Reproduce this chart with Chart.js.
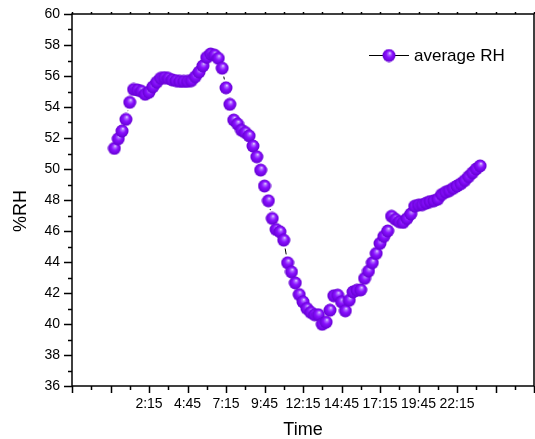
<!DOCTYPE html>
<html>
<head>
<meta charset="utf-8">
<script src="https://cdn.jsdelivr.net/npm/chart.js@4"></script>
<style>
  html, body { margin: 0; padding: 0; background: #fff; }
  #wrap { width: 535px; height: 439px; }
</style>
</head>
<body>
<div id="wrap"><canvas id="chartRH" width="535" height="439"></canvas></div>
<script>
// readings every 15 min, starting 0:00 (hours on the x axis)
const sampleStep = 0.25;
const rhValues = [
  51.33, 51.95, 52.45, 53.2, 54.3, 55.13, 55.1, 55.02, 54.82, 54.95,
  55.3, 55.6, 55.85, 55.9, 55.85, 55.75, 55.7, 55.65, 55.65, 55.65,
  55.7, 55.95, 56.25, 56.65, 57.2, 57.42, 57.35, 57.14, 56.5, 55.24,
  54.17, 53.16, 52.9, 52.5, 52.36, 52.14, 51.48, 50.79, 49.93, 48.9,
  47.95, 46.81, 46.1, 45.95, 45.41, 43.95, 43.36, 42.65, 41.9, 41.43,
  41.0, 40.75, 40.6, 40.6, 39.98, 40.12, 40.89, 41.82, 41.86, 41.43,
  40.85, 41.53, 42.07, 42.18, 42.2, 42.94, 43.41, 43.95, 44.55, 45.2,
  45.65, 46.0, 46.95, 46.75, 46.6, 46.55, 46.8, 47.1, 47.6, 47.67,
  47.7, 47.8, 47.9, 47.95, 48.05, 48.35, 48.5, 48.6, 48.75, 48.9,
  49.05, 49.25, 49.5, 49.75, 50.0, 50.2
];
const xTickLabels = ['2:15', '4:45', '7:15', '9:45', '12:15', '14:45', '17:15', '19:45', '22:15'];
const xMin = -2.75, xMax = 27.25, xMajor = 2.5;
const yMin = 36, yMax = 60, yMajor = 2;

const FONT = 'Arial, "Liberation Sans", sans-serif';
const R = 6.5;

// "2:15" -> 2.25
function toHours(s) {
  const [h, m] = s.split(':').map(Number);
  return h + m / 60;
}
const labelAt = {};
xTickLabels.forEach(s => { labelAt[toHours(s).toFixed(2)] = s; });

// shaded purple ball, like the Origin sphere symbol
function makeBall(r) {
  const c = document.createElement('canvas');
  const s = Math.ceil(r * 2) + 1;
  c.width = s; c.height = s;
  const g = c.getContext('2d');
  const cx = s / 2, cy = s / 2;
  const grad = g.createRadialGradient(cx + r * 0.15, cy - r * 0.4, 0, cx, cy, r);
  grad.addColorStop(0, '#f6ecff');
  grad.addColorStop(0.2, '#b070ff');
  grad.addColorStop(0.5, '#8a10ff');
  grad.addColorStop(1, '#6400d2');
  g.fillStyle = grad;
  g.beginPath();
  g.arc(cx, cy, r, 0, Math.PI * 2);
  g.fill();
  return c;
}
const ball = makeBall(R);

// kill the label overhang padding so the plot box sits where it should
function noPad(s) {
  s.paddingTop = 0; s.paddingBottom = 0;
  s.paddingLeft = 0; s.paddingRight = 0;
}

// line between symbols, stopping short of each ball
const gapLines = {
  id: 'gapLines',
  beforeDatasetsDraw(chart) {
    const pts = chart.getDatasetMeta(0).data;
    const ctx = chart.ctx;
    const gap = R + 2;
    ctx.save();
    ctx.strokeStyle = '#000';
    ctx.lineWidth = 1;
    ctx.beginPath();
    for (let i = 1; i < pts.length; i++) {
      const a = pts[i - 1], b = pts[i];
      const dx = b.x - a.x, dy = b.y - a.y;
      const d = Math.hypot(dx, dy);
      if (d <= gap * 2) continue;
      const ux = dx / d, uy = dy / d;
      ctx.moveTo(a.x + ux * gap, a.y + uy * gap);
      ctx.lineTo(b.x - ux * gap, b.y - uy * gap);
    }
    ctx.stroke();
    ctx.restore();
  }
};

// frame, major/minor ticks, y title and legend
const decor = {
  id: 'decor',
  afterDraw(chart) {
    const { ctx, chartArea: a, scales: { x, y } } = chart;
    ctx.save();
    ctx.strokeStyle = '#000';
    ctx.lineWidth = 1.5;
    ctx.strokeRect(a.left, a.top, a.right - a.left, a.bottom - a.top);

    ctx.beginPath();
    for (let v = yMin; v <= yMax; v += yMajor / 2) {
      const py = Math.round(y.getPixelForValue(v)) + 0.5;
      const len = (v - yMin) % yMajor === 0 ? 8 : 4;
      ctx.moveTo(a.left - len, py);
      ctx.lineTo(a.left, py);
    }
    for (let v = xMin; v <= xMax + 0.01; v += xMajor / 2) {
      const px = Math.round(x.getPixelForValue(v)) + 0.5;
      const major = Math.abs((v - xMin) % xMajor) < 0.01;
      ctx.moveTo(px, a.bottom);
      ctx.lineTo(px, a.bottom + (major ? 7 : 4));
      ctx.moveTo(px, a.top);
      ctx.lineTo(px, a.top - 2);
    }
    ctx.stroke();

    ctx.fillStyle = '#000';
    ctx.font = '18px ' + FONT;
    ctx.textAlign = 'center';
    ctx.textBaseline = 'middle';
    ctx.translate(21, 211);
    ctx.rotate(-Math.PI / 2);
    ctx.fillText('%RH', 0, 0);
    ctx.setTransform(1, 0, 0, 1, 0, 0);

    // legend
    const ly = 55;
    ctx.lineWidth = 1;
    ctx.beginPath();
    ctx.moveTo(369, ly + 0.5);
    ctx.lineTo(409, ly + 0.5);
    ctx.stroke();
    ctx.drawImage(ball, 389 - ball.width / 2, ly - ball.height / 2 + 0.5);
    ctx.font = '17px ' + FONT;
    ctx.textAlign = 'left';
    ctx.fillText('average RH', 414, ly + 1);
    ctx.restore();
  }
};

new Chart(document.getElementById('chartRH'), {
  type: 'scatter',
  data: {
    datasets: [{
      label: 'average RH',
      data: rhValues.map((v, i) => ({ x: i * sampleStep, y: v })),
      showLine: false,
      pointStyle: ball,
      pointRadius: R,
      pointHoverRadius: R
    }]
  },
  options: {
    responsive: false,
    animation: false,
    devicePixelRatio: 1,
    layout: { autoPadding: false, padding: { top: 14, right: 1, left: 0, bottom: 0 } },
    plugins: {
      legend: { display: false },
      tooltip: { enabled: false }
    },
    scales: {
      x: {
        type: 'linear',
        min: xMin,
        max: xMax,
        afterFit: s => { s.height = 53; noPad(s); },
        afterBuildTicks: s => {
          s.ticks = [];
          for (let v = xMin; v <= xMax + 0.01; v += xMajor) s.ticks.push({ value: v });
        },
        grid: { display: false, drawTicks: false },
        border: { display: false },
        ticks: {
          padding: 10,
          color: '#000',
          font: { size: 14, family: FONT },
          maxRotation: 0,
          autoSkip: false,
          callback: v => labelAt[Number(v).toFixed(2)] || ''
        },
        title: {
          display: true,
          text: 'Time',
          color: '#000',
          font: { size: 18, family: FONT },
          padding: { top: 0, bottom: -2 }
        }
      },
      y: {
        min: yMin,
        max: yMax,
        afterFit: s => { s.width = 72; noPad(s); },
        grid: { display: false, drawTicks: false },
        border: { display: false },
        ticks: {
          stepSize: yMajor,
          padding: 12,
          color: '#000',
          font: { size: 14, family: FONT }
        }
      }
    }
  },
  plugins: [gapLines, decor]
});
</script>
</body>
</html>
